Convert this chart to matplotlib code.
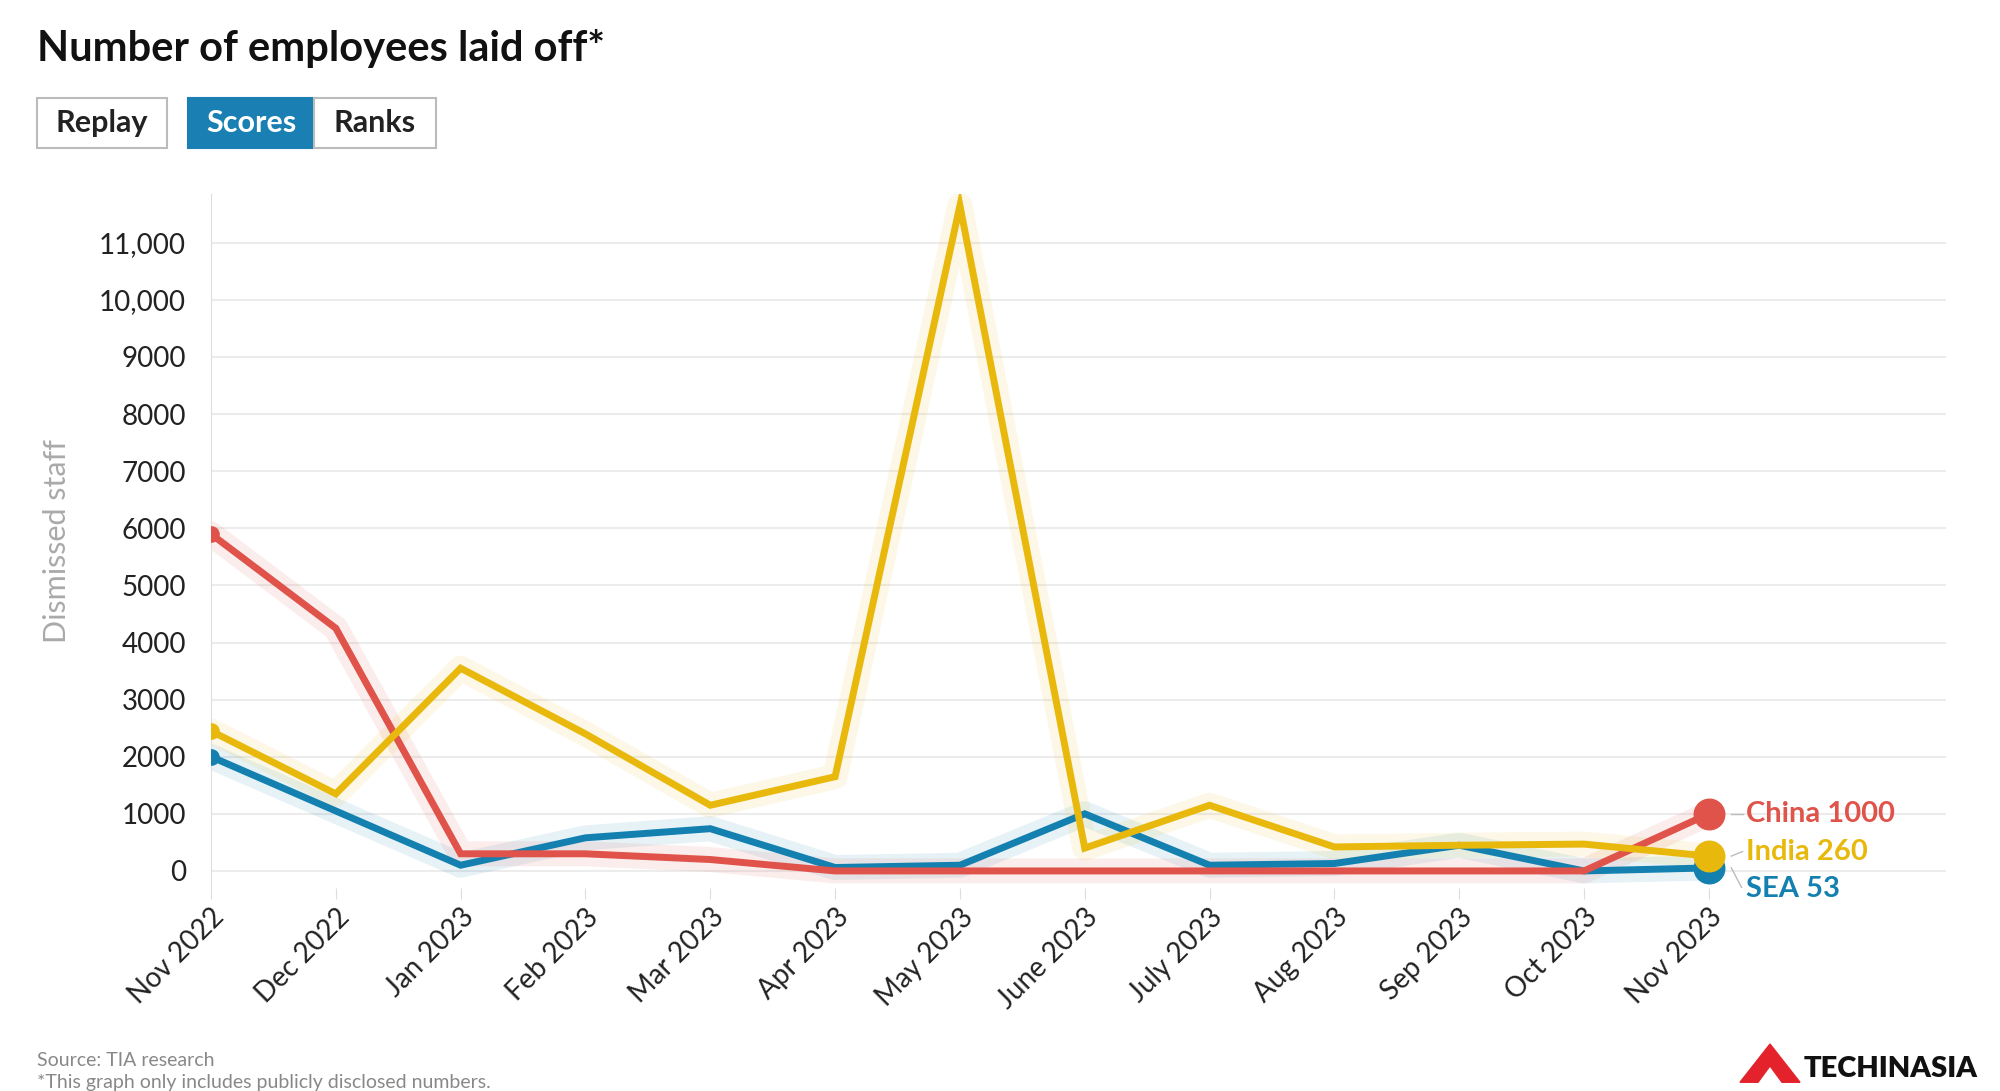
import matplotlib.pyplot as plt
from matplotlib.patches import Rectangle, Polygon

plt.rcParams['font.family'] = ['Lato', 'DejaVu Sans']

months = ['Nov 2022', 'Dec 2022', 'Jan 2023', 'Feb 2023', 'Mar 2023', 'Apr 2023', 'May 2023',
          'June 2023', 'July 2023', 'Aug 2023', 'Sep 2023', 'Oct 2023', 'Nov 2023']
china = [5900, 4250, 300, 300, 200, 0, 0, 0, 0, 0, 0, 0, 1000]
india = [2450, 1350, 3550, 2400, 1150, 1650, 11650, 400, 1150, 420, 450, 470, 260]
sea = [2000, 1050, 100, 580, 740, 60, 100, 1000, 100, 130, 450, 0, 53]
yticks = [0, 1000, 2000, 3000, 4000, 5000, 6000, 7000, 8000, 9000, 10000, 11000]
ytick_labels = ['0', '1000', '2000', '3000', '4000', '5000', '6000', '7000', '8000', '9000', '10,000', '11,000']

c_china = '#e0534a'
c_india = '#e8b90c'
c_sea = '#1380b0'

fig = plt.figure(figsize=(20, 10.91), dpi=100)
ax = fig.add_axes([0.1055, 0.186, 0.8675, 0.636])
x = range(len(months))

series = [(sea, c_sea, 'SEA'), (china, c_china, 'China'), (india, c_india, 'India')]
for vals, col, name in series:
    ax.plot(x, vals, color=col, lw=18, alpha=0.1, solid_capstyle='round', zorder=2)
    ax.plot(x, vals, color=col, lw=5, solid_joinstyle='miter', zorder=3)
    ax.plot(0, vals[0], 'o', color=col, ms=11, zorder=4)
    ax.plot(12, vals[-1], 'o', color=col, ms=22, zorder=4)

labels = [('China 1000', china[-1], c_china, 1000),
          ('India 260', india[-1], c_india, 340),
          ('SEA 53', sea[-1], c_sea, -320)]
for txt, v, col, ly in labels:
    ax.plot([12.18, 12.27], [v, ly], color='#bbbbbb', lw=1)
    ax.text(12.3, ly, txt, color=col, fontsize=21, fontweight='bold', va='center')

ax.set_xlim(0, 13.9)
ax.set_ylim(-300, 11850)
ax.set_yticks(yticks)
ax.set_yticklabels(ytick_labels, fontsize=20, color='#222222')
ax.set_xticks(list(x))
ax.set_xticklabels(months, rotation=45, ha='right', rotation_mode='anchor', fontsize=20, color='#222222')
ax.grid(True, axis='y', color='#ececec', lw=1.5)
ax.set_axisbelow(True)
for s in ['top', 'right', 'bottom']:
    ax.spines[s].set_visible(False)
ax.spines['left'].set_color('#dddddd')
ax.tick_params(axis='y', length=0, pad=18)
ax.tick_params(axis='x', length=8, color='#dddddd')
ax.set_ylabel('Dismissed staff', fontsize=22, color='#aaaaaa', labelpad=20)

fig.text(0.0185, 0.956, 'Number of employees laid off*', fontsize=30, fontweight='bold', color='#111111', va='center')

# buttons
def button(x0, w, label, active):
    fc = '#1a80b3' if active else 'white'
    ec = '#1a80b3' if active else '#bbbbbb'
    fig.patches.append(Rectangle((x0, 0.864), w, 0.046, transform=fig.transFigure,
                                 facecolor=fc, edgecolor=ec, lw=1.5))
    fig.text(x0 + w / 2, 0.887, label, fontsize=22, fontweight='bold',
             color='white' if active else '#222222', ha='center', va='center')

button(0.0185, 0.065, 'Replay', False)
button(0.094, 0.063, 'Scores', True)
button(0.157, 0.061, 'Ranks', False)

fig.text(0.0185, 0.028, 'Source: TIA research', fontsize=14, color='#888888', va='center')
fig.text(0.0185, 0.008, '*This graph only includes publicly disclosed numbers.', fontsize=14, color='#888888', va='center')

fig.patches.append(Polygon([[0.870, 0.008], [0.885, 0.043], [0.900, 0.008], [0.891, 0.008], [0.885, 0.023], [0.879, 0.008]],
                           closed=True, transform=fig.transFigure, color='#e4222c'))
fig.text(0.902, 0.020, 'TECHINASIA', fontsize=21, fontweight='heavy', color='#111111', va='center')

fig.savefig('out.png', dpi=100)
